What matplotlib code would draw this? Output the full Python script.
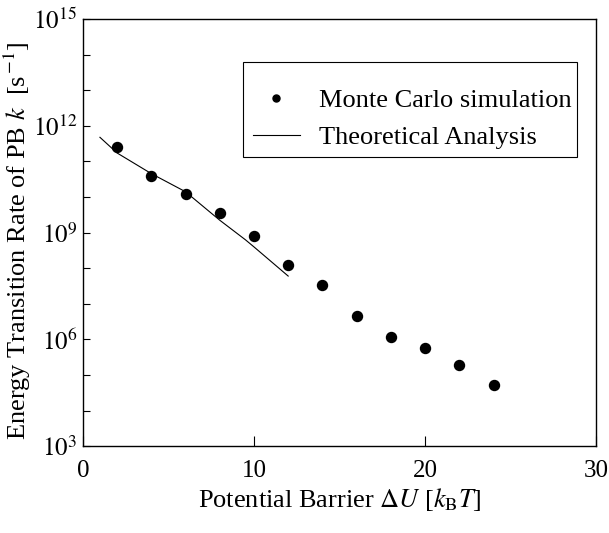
import numpy as np
import matplotlib.pyplot as plt
from matplotlib.patches import Rectangle

plt.rcParams['font.family'] = ['Liberation Serif', 'DejaVu Serif']
plt.rcParams['mathtext.fontset'] = 'stix'

# Monte Carlo simulation points
mc_barrier = [2, 4, 6, 8, 10, 12, 14, 16, 18, 20, 22, 24]
mc_log_rate = [11.41, 10.60, 10.09, 9.54, 8.91, 8.09, 7.52, 6.65, 6.07, 5.77, 5.28, 4.71]

# Theoretical analysis curve
th_barrier = [1.0, 2.0, 4.0, 6.0, 8.0, 9.5, 10.0, 12.0]
th_log_rate = [11.68, 11.24, 10.66, 10.15, 9.35, 8.80, 8.60, 7.78]

mc_rate = 10.0 ** np.array(mc_log_rate)
th_rate = 10.0 ** np.array(th_log_rate)

fig = plt.figure(figsize=(6.09, 5.33), dpi=100)
ax = fig.add_axes([0.136, 0.163, 0.843, 0.801])

ax.plot(mc_barrier, mc_rate, 'o', color='black', markersize=7.2,
        label='Monte Carlo simulation')
ax.plot(th_barrier, th_rate, '-', color='black', linewidth=0.8,
        label='Theoretical Analysis')

ax.set_yscale('log')
ax.set_xlim(0, 30)
ax.set_ylim(1e3, 1e15)

ax.set_xticks([0, 10, 20, 30])
ax.set_xticklabels(['0', '10', '20', '30'])
ax.set_yticks([10.0 ** e for e in range(3, 16, 3)])
ax.set_yticklabels([r'$10^{%d}$' % e for e in range(3, 16, 3)])
ax.set_yticks([10.0 ** e for e in range(3, 16)], minor=True)
ax.yaxis.set_minor_formatter(plt.NullFormatter())

ax.tick_params(axis='both', which='both', direction='in', labelsize=18,
               width=0.8, top=False, right=False)
ax.tick_params(axis='y', which='both', length=5, pad=4)
ax.tick_params(axis='x', which='major', length=7, pad=10)
for s in ax.spines.values():
    s.set_linewidth(1.0)

ax.set_xlabel(r'Potential Barrier $\Delta U$ [$k_{\mathrm{B}}T$]', fontsize=19,
              labelpad=3)
ax.set_ylabel(r'Energy Transition Rate of PB $k$  [s$^{\,\mathrm{-1}}$]',
              fontsize=19)
ax.yaxis.set_label_coords(-0.097, 0.48)

# legend without its own frame, box drawn separately
leg = ax.legend(loc='upper left', bbox_to_anchor=(0.331, 0.838), fontsize=19,
                frameon=False, markerscale=0.7,
                handlelength=1.78, handletextpad=0.72, borderpad=0,
                labelspacing=0.52, borderaxespad=0)
ax.add_patch(Rectangle((0.312, 0.677), 0.651, 0.222, transform=ax.transAxes,
                       fill=False, edgecolor='black', linewidth=0.8))

fig.savefig('out.png', dpi=100)
